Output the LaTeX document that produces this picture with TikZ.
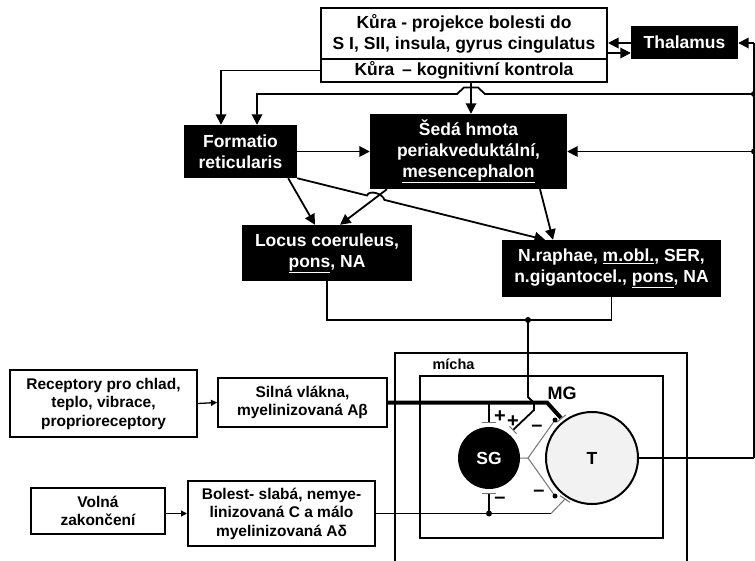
\documentclass[tikz,border=0pt]{standalone}
\usepackage{fontspec}
\setmainfont{Liberation Sans}
\usetikzlibrary{arrows.meta}
\def\boxfont{\fontsize{17.5}{21}\selectfont\bfseries}
\def\leftfont{\fontsize{15.5}{18.5}\selectfont\bfseries}

\tikzset{
  blackbox/.style={fill=black, text=white, font=\boxfont, align=center, inner sep=0pt},
  whitebox/.style={draw, line width=2pt, fill=white, font=\boxfont, align=center, inner sep=0pt},
  leftbox/.style={draw, line width=2pt, font=\leftfont, align=center, inner sep=0pt},
  conn/.style={line width=1.8pt},
  arr/.style={conn, -{Triangle[length=10.5pt,width=10.5pt]}},
  smallarr/.style={line width=1.3pt, -{Triangle[length=6pt,width=6pt]}},
  inhib/.style={line width=1pt, black!55},
  thickfib/.style={line width=4pt},
  sign/.style={font=\fontsize{20}{20}\selectfont\bfseries, inner sep=0pt}
}

\begin{document}
\begin{tikzpicture}[x=1pt,y=-1pt]
      \useasboundingbox (0,0) rectangle (755,561);

      % mozek
      \node[whitebox, minimum width=286pt, minimum height=51pt] (kura) at (464,33.5) {Kůra - projekce bolesti do\\S I, SII, insula, gyrus cingulatus};
      \node[whitebox, minimum width=286pt, minimum height=23pt] (kog) at (464,70.5) {Kůra \,– kognitivní kontrola};
      \node[blackbox, minimum width=107pt, minimum height=33pt] (thal) at (684.5,42.5) {Thalamus};
      \node[blackbox, minimum width=113pt, minimum height=53pt] (form) at (240.5,151.5) {Formatio\\reticularis};
      \node[blackbox, minimum width=197pt, minimum height=75pt] (seda) at (468.5,151.5) {Šedá hmota\\periakveduktální,\\\underline{mesencephalon}};
      \node[blackbox, minimum width=170pt, minimum height=56pt] (locus) at (327,253) {Locus coeruleus,\\\underline{pons}, NA};
      \node[blackbox, minimum width=219pt, minimum height=57pt] (raphae) at (611.5,268.5) {N.raphae, \underline{m.obl.}, SER,\\n.gigantocel., \underline{pons}, NA};

      % periferie
      \node[leftbox, minimum width=187pt, minimum height=67pt] (rec) at (103.5,403.5) {Receptory pro chlad,\\teplo, vibrace,\\proprioreceptory};
      \node[leftbox, minimum width=169pt, minimum height=49pt] (silna) at (302.5,402.5) {Silná vlákna,\\myelinizovaná Aβ};
      \node[leftbox, minimum width=134pt, minimum height=46pt] (volna) at (98,511) {Volná\\zakončení};
      \node[leftbox, minimum width=187pt, minimum height=65pt] (bolest) at (281.5,513.5) {Bolest- slabá, nemye-\\linizovaná C a málo\\myelinizovaná Aδ};

      % mícha
      \draw[line width=2pt] (395,561) |- (687,353) -- (687,561);
      \node[font=\fontsize{14.5}{14.5}\selectfont\bfseries, anchor=west] (micha) at (429,364) {mícha};
      \node[draw, line width=2pt, minimum width=243pt, minimum height=162pt, inner sep=0pt] (mg) at (541.5,457) {};
      \node[font=\fontsize{18}{18}\selectfont\bfseries] (mglabel) at (562,393) {MG};
      \node[circle, fill=black, text=white, minimum size=62pt, inner sep=0pt, font=\boxfont] (sg) at (489,458) {SG};
      \node[circle, draw, line width=2pt, fill=black!5, minimum size=92pt, inner sep=0pt, font=\boxfont] (t) at (592,458) {T};

      \coordinate (bustop) at (754,43);
      \coordinate (busfr) at (754,94);
      \coordinate (busseda) at (754,151.5);
      \coordinate (busout) at (754,458);
      \coordinate (junct) at (528,320);
      \coordinate (sgfork) at (528,458);
      \coordinate (cdot) at (489,513.5);

      % sestupne a vzestupne drahy
      \draw[arr] (thal.west |- 0,43) -- (kura.east |- 0,43);
      \draw[arr] (kura.east |- 0,53) -- (thal.west |- 0,53);
      \draw[arr] (bustop) -- (thal.east |- bustop);
      \draw[conn] (busout) -- (bustop);
      \fill (busfr) circle (3pt);
      \fill (busseda) circle (3pt);
      \draw[arr] (kog.west) -| ([xshift=-19.5pt]form.north);
      \draw[arr] (busfr) -- (485,94) -- (478,87.5) -- (464,87.5) -- (457,94) -| ([xshift=16.5pt]form.north);
      \draw[arr] ([xshift=7pt]kog.south) -- ([xshift=2.5pt]seda.north);
      \draw[arr] (form.east) -- (seda.west);
      \draw[arr] (busseda) -- (seda.east);
      \draw[arr] ([xshift=-9pt]form.south east) -- ([xshift=-12pt]locus.north);
      \draw[arr] ([xshift=-81.5pt]seda.south) -- ([xshift=13pt]locus.north);
      \draw[arr] (form.south east) -- (367,195.5) .. controls (369,189.5) and (383,193.5) .. (384.4,199.9) -- ([xshift=-66.5pt]raphae.north);
      \draw[arr] ([xshift=71.5pt]seda.south) -- ([xshift=-58.5pt]raphae.north);
      \draw[conn] (locus.south) |- (junct) -| (raphae.south);
      \fill (junct) circle (3pt);
      \draw[conn] (junct) -- (528,397) -- (534,403) -- (534,410) -- (513,430);
      \draw[inhib] (509.5,426.4) -- (516.5,433.6);

      % vratka
      \draw[smallarr] (rec.east) -- (silna.west);
      \draw[smallarr] (volna.east |- bolest.west) -- (bolest.west);
      \draw[thickfib] (silna.east) -- (547,402.5) -- (561,418);
      \draw[conn] (sg.north |- silna.east) -- ([yshift=4pt]sg.north);
      \draw[inhib] ([xshift=-7pt,yshift=4pt]sg.north) -- ([xshift=7pt,yshift=4pt]sg.north);
      \draw[inhib] (556.5,422.3) -- (565.9,414.9);
      \draw[inhib] (560,495.7) -- (570,502.3);
      \draw[inhib] (sg.east) -- (sgfork) -- (555,420);
      \draw[inhib] (sgfork) -- (555,496);
      \fill (555,420) circle (2.5pt);
      \fill (555,496) circle (2.5pt);
      \draw[line width=1.2pt] (bolest.east) -- (551,513.5);
      \draw[inhib] (551,513.5) -- (565,499);
      \fill (cdot) circle (3pt);
      \draw[conn] (cdot) -- ([yshift=-4pt]sg.south);
      \draw[inhib] ([xshift=-7pt,yshift=-4pt]sg.south) -- ([xshift=7pt,yshift=-4pt]sg.south);
      \draw[conn] (t.east) -- (busout);

      \node[sign] (plus1) at (500,417) {+};
      \node[sign] (plus2) at (513,422) {+};
      \node[sign] (minus1) at (537,428) {–};
      \node[sign] (minus2) at (539,493) {–};
      \node[sign] (minus3) at (500,500) {–};
\end{tikzpicture}
\end{document}
